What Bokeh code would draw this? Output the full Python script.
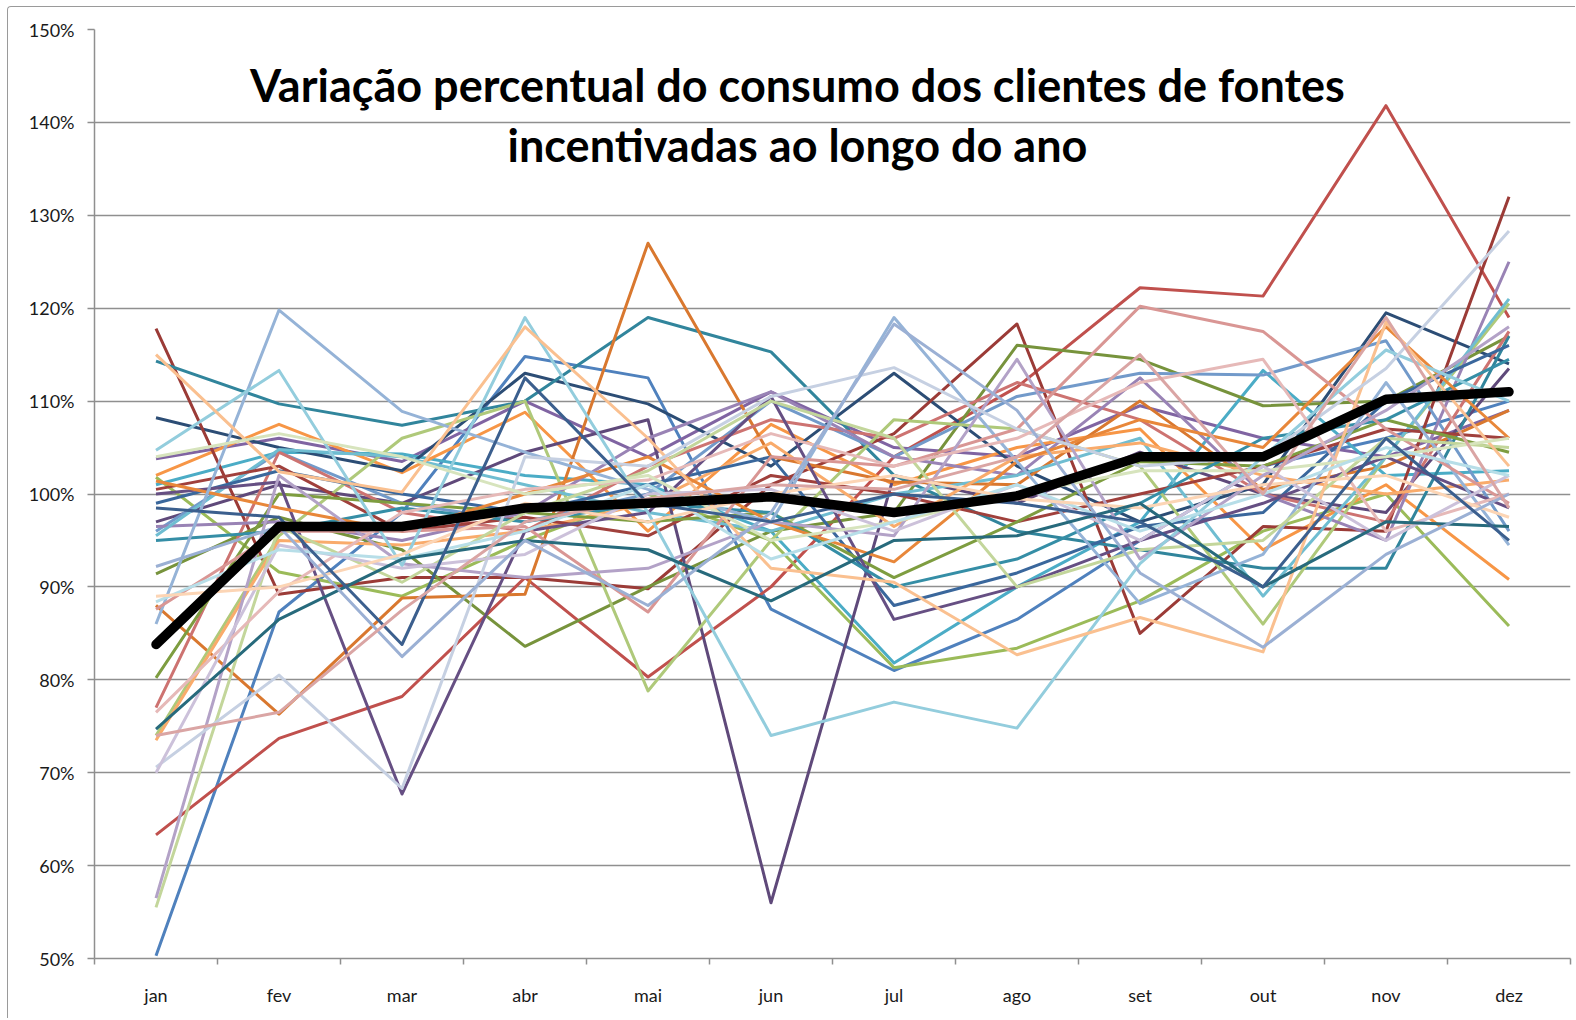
from bokeh.plotting import figure
from bokeh.models import Range1d, FixedTicker, PrintfTickFormatter, Label, CustomJSTickFormatter
from bokeh.embed import file_html
from bokeh.resources import INLINE

months = ["jan", "fev", "mar", "abr", "mai", "jun", "jul", "ago", "set", "out", "nov", "dez"]

title_lines = ["Variação percentual do consumo dos clientes de fontes",
               "incentivadas ao longo do ano"]

# consumption variation per client (%)
s01 = [50.3, 87.3, 98.0, 114.8, 112.5, 87.6, 81.0, 86.5, 95.0, 103.0, 106.0, 110.0]
s02 = [63.3, 73.7, 78.2, 91.0, 80.3, 90.0, 104.0, 111.5, 122.2, 121.3, 141.8, 119.0]
s03 = [101.8, 91.6, 89.0, 95.0, 100.0, 95.0, 81.3, 83.4, 88.5, 96.0, 100.0, 85.8]
s04 = [103.8, 106.0, 103.5, 110.0, 104.0, 111.0, 105.0, 104.0, 109.5, 106.0, 104.0, 109.0]
s05 = [101.0, 104.5, 104.3, 102.0, 101.0, 96.0, 81.8, 90.0, 97.0, 113.3, 102.0, 102.5]
s06 = [102.0, 107.5, 102.3, 108.8, 96.0, 107.5, 101.0, 105.0, 107.0, 94.0, 101.0, 90.8]
s07 = [108.2, 105.0, 102.5, 113.0, 109.7, 103.0, 113.0, 103.0, 97.0, 101.0, 119.5, 114.0]
s08 = [117.8, 89.2, 91.0, 91.0, 89.8, 101.0, 106.5, 118.3, 85.0, 96.5, 96.0, 132.0]
s09 = [91.4, 97.5, 94.0, 83.6, 90.0, 96.0, 98.0, 116.0, 114.5, 109.5, 110.0, 117.0]
s10 = [97.0, 101.0, 99.0, 104.5, 108.0, 56.0, 102.0, 99.0, 104.5, 100.0, 98.0, 113.5]
s11 = [114.3, 109.7, 107.4, 110.0, 119.0, 115.3, 102.0, 96.0, 94.0, 92.0, 92.0, 117.0]
s12 = [88.0, 76.3, 88.8, 89.2, 127.0, 104.0, 101.3, 101.0, 110.0, 100.5, 103.0, 109.0]
s13 = [96.0, 104.5, 99.0, 97.0, 100.0, 110.0, 104.0, 110.5, 113.0, 112.8, 116.5, 96.0]
s14 = [77.0, 104.5, 98.0, 96.0, 103.0, 108.0, 106.0, 112.0, 108.0, 100.0, 97.0, 117.5]
s15 = [74.0, 95.5, 106.0, 110.0, 78.8, 95.0, 108.0, 107.0, 103.0, 86.0, 104.0, 120.5]
s16 = [96.5, 97.0, 95.0, 98.0, 106.0, 111.0, 104.0, 102.0, 112.5, 100.0, 95.0, 125.0]
s17 = [95.5, 104.8, 104.0, 101.0, 98.0, 96.0, 100.0, 102.0, 106.0, 89.0, 104.0, 121.0]
s18 = [73.5, 95.0, 94.5, 96.0, 99.0, 105.5, 96.5, 104.0, 105.5, 102.0, 100.0, 101.5]
s19 = [99.0, 102.5, 100.0, 98.0, 101.0, 104.0, 88.0, 91.5, 96.5, 98.0, 110.0, 116.0]
s20 = [100.5, 103.0, 96.0, 97.5, 95.5, 102.0, 100.0, 97.0, 100.0, 103.0, 107.0, 106.0]
s21 = [80.2, 100.0, 99.0, 98.0, 97.0, 98.0, 91.0, 97.0, 103.5, 103.0, 108.0, 104.5]
s22 = [100.0, 101.3, 67.7, 96.0, 98.0, 110.5, 86.5, 90.0, 95.0, 99.0, 104.0, 98.5]
s23 = [95.0, 96.0, 98.5, 97.0, 99.0, 98.0, 90.0, 93.0, 99.0, 106.0, 108.0, 114.5]
s24 = [101.4, 98.5, 96.0, 100.0, 104.0, 97.0, 92.7, 103.5, 108.0, 105.0, 118.0, 106.0]
s25 = [86.0, 119.8, 108.9, 104.5, 100.5, 97.0, 119.0, 103.5, 88.2, 93.5, 112.0, 94.5]
s26 = [87.6, 96.0, 96.0, 96.5, 87.3, 104.0, 103.0, 107.0, 120.2, 117.5, 107.0, 99.0]
s27 = [55.5, 96.5, 90.5, 98.0, 102.5, 110.0, 106.0, 90.0, 94.0, 95.0, 106.0, 105.0]
s28 = [56.5, 102.0, 92.5, 91.0, 92.0, 97.0, 95.5, 114.5, 93.0, 102.0, 109.0, 118.0]
s29 = [104.7, 113.3, 92.3, 119.0, 98.0, 74.0, 77.6, 74.8, 92.5, 104.0, 115.5, 110.0]
s30 = [115.0, 102.4, 100.2, 118.0, 106.0, 92.0, 90.5, 82.7, 86.7, 83.0, 118.5, 103.0]
s31 = [70.6, 80.5, 68.3, 104.0, 103.0, 110.5, 113.6, 107.0, 103.0, 104.0, 113.5, 128.3]
s32 = [76.5, 89.5, 98.0, 100.5, 101.5, 106.5, 103.0, 106.0, 112.0, 114.5, 96.0, 100.0]
s33 = [104.0, 106.5, 104.0, 100.0, 102.0, 95.0, 97.0, 100.0, 102.5, 102.5, 104.0, 106.0]
s34 = [70.0, 94.5, 92.0, 93.5, 100.0, 100.5, 96.0, 101.0, 95.0, 103.0, 95.0, 102.0]
s35 = [88.4, 94.0, 93.0, 96.0, 101.0, 93.0, 97.0, 101.0, 96.0, 100.0, 105.0, 102.0]
s36 = [89.0, 90.0, 93.5, 99.0, 97.0, 100.0, 102.0, 99.5, 98.5, 101.0, 102.0, 97.5]
s37 = [74.7, 86.5, 93.0, 95.0, 94.0, 88.5, 95.0, 95.5, 99.0, 90.0, 97.0, 96.5]
s38 = [92.2, 96.5, 82.5, 95.0, 88.0, 98.0, 118.3, 109.0, 91.5, 83.5, 93.5, 100.0]
s39 = [98.5, 97.5, 83.8, 112.5, 99.0, 97.0, 100.0, 99.0, 97.0, 90.0, 106.0, 95.0]
s40 = [74.0, 76.5, 87.5, 97.0, 99.5, 101.0, 100.5, 104.0, 115.0, 100.0, 119.0, 98.5]

media = [83.8, 96.5, 96.5, 98.5, 99.0, 99.7, 98.0, 99.8, 104.0, 104.0, 110.2, 111.0]

series = [s01, s02, s03, s04, s05, s06, s07, s08, s09, s10,
          s11, s12, s13, s14, s15, s16, s17, s18, s19, s20,
          s21, s22, s23, s24, s25, s26, s27, s28, s29, s30,
          s31, s32, s33, s34, s35, s36, s37, s38, s39, s40]

colors = ["#4F81BD", "#C0504D", "#9BBB59", "#8064A2", "#4BACC6", "#F79646",
          "#2C4D75", "#9B3B37", "#77933C", "#5F497A", "#31859C", "#D9782F",
          "#729ACA", "#CD7371", "#AFC97A", "#9983B5", "#6FBDD1", "#F9AB6B",
          "#3A679C", "#A0403C", "#7E9D40", "#664F83", "#358EA6", "#E8873A",
          "#95B3D7", "#D99694", "#C3D69B", "#B3A2C7", "#93CDDD", "#FAC090",
          "#C6D0E2", "#E6B9B8", "#D7E4BD", "#CCC1DA", "#B7DEE8", "#FCD5B5",
          "#276A7C", "#9BB0D4", "#3B5F8E", "#DAA5A4"]

x = [i + 0.5 for i in range(len(months))]

p = figure(width=1568, height=1012, x_range=Range1d(0, 12), y_range=Range1d(50, 150),
           output_backend="svg", toolbar_location=None,
           min_border_left=86, min_border_right=6, min_border_top=22, min_border_bottom=61)
p.styles = {"border-left": "1px solid #9a9a9a", "border-top": "1px solid #9a9a9a",
            "border-top-left-radius": "4px", "margin-left": "7px", "margin-top": "6px"}
p.outline_line_color = None
p.background_fill_color = "white"
p.border_fill_color = "white"

grid_col = "#8f8f8f"
p.xgrid.visible = False
p.ygrid.ticker = FixedTicker(ticks=list(range(50, 151, 10)))
p.ygrid.grid_line_color = grid_col
p.ygrid.grid_line_width = 1.5

p.yaxis.ticker = FixedTicker(ticks=list(range(50, 151, 10)))
p.yaxis.formatter = PrintfTickFormatter(format="%d%%")
p.yaxis.major_tick_out = 7
p.yaxis.major_tick_in = 0
p.yaxis.minor_tick_out = 0
p.yaxis.minor_tick_in = 0
p.yaxis.major_label_standoff = 13
p.yaxis.axis_line_color = grid_col
p.yaxis.axis_line_width = 1.5
p.yaxis.major_tick_line_color = grid_col
p.yaxis.major_tick_line_width = 1.5

p.xaxis.ticker = FixedTicker(ticks=x, minor_ticks=list(range(13)))
p.xaxis.formatter = CustomJSTickFormatter(args=dict(months=months),
                                          code="return months[Math.floor(tick)];")
p.xaxis.major_tick_out = 0
p.xaxis.major_tick_in = 0
p.xaxis.minor_tick_out = 6
p.xaxis.minor_tick_in = 0
p.xaxis.minor_tick_line_color = grid_col
p.xaxis.minor_tick_line_width = 1.5
p.xaxis.major_label_standoff = 19
p.xaxis.axis_line_color = grid_col
p.xaxis.axis_line_width = 1.5

for ax in (p.xaxis, p.yaxis):
    ax.major_label_text_font = "Lato"
    ax.major_label_text_font_size = "18px"
    ax.major_label_text_color = "#1a1a1a"

for vals, col in zip(series, colors):
    p.line(x, vals, line_color=col, line_width=3, line_join="round")

p.line(x, media, line_color="black", line_width=9.5, line_join="round", line_cap="round")

p.add_layout(Label(x=5.715, y=144.0, text=title_lines[0], text_align="center",
                   text_baseline="alphabetic", text_font="Lato", text_font_size="45px",
                   text_font_style="bold", text_color="black"))
p.add_layout(Label(x=5.715, y=137.6, text=title_lines[1], text_align="center",
                   text_baseline="alphabetic", text_font="Lato", text_font_size="45px",
                   text_font_style="bold", text_color="black"))

open("out.html", "w").write(file_html(p, INLINE))
